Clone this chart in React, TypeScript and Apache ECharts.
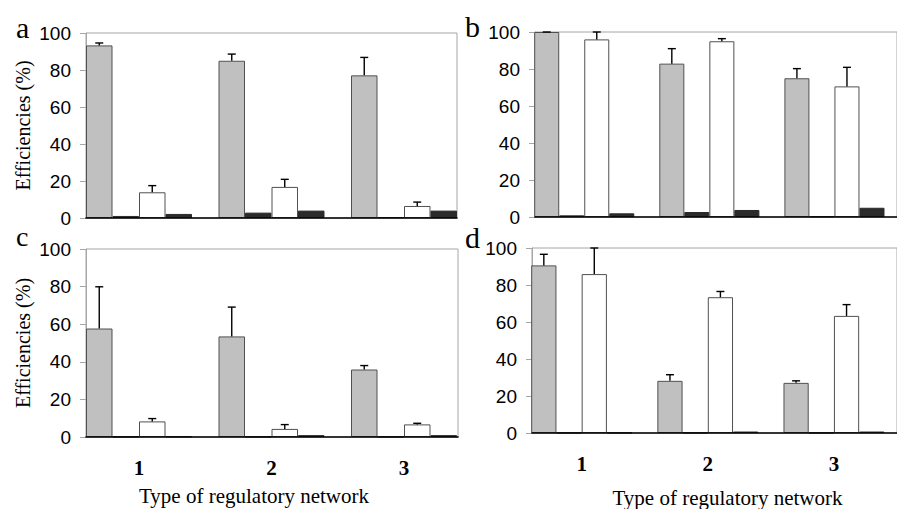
import React, { useEffect, useRef } from 'react';
import * as echarts from 'echarts';

// ---- data ----
const categories = ['1', '2', '3'];
const yTicks = { min: 0, max: 100, step: 20 };

// panel a
const aGray = [93.3, 85.0, 77.1];
const aGrayErr = [1.3, 3.6, 9.7];
const aDark1 = [1.1, 2.9, 0.5];
const aWhite = [13.9, 16.8, 6.5];
const aWhiteErr = [3.6, 4.1, 2.1];
const aDark2 = [2.2, 4.0, 4.0];

// panel b
const bGray = [100, 82.9, 75.0];
const bGrayErr = [0.2, 8.1, 5.2];
const bDark1 = [0.9, 2.7, 0.4];
const bWhite = [96.0, 95.0, 70.6];
const bWhiteErr = [4.0, 1.4, 10.3];
const bDark2 = [2.0, 3.8, 5.0];

// panel c
const cGray = [57.7, 53.5, 35.9];
const cGrayErr = [22.2, 15.6, 2.1];
const cDark1 = [0.2, 0.2, 0.2];
const cWhite = [8.3, 4.3, 6.7];
const cWhiteErr = [1.5, 2.3, 0.6];
const cDark2 = [0.3, 1.0, 1.0];

// panel d
const dGray = [90.6, 28.2, 27.1];
const dGrayErr = [6.0, 3.3, 1.1];
const dDark1 = [0.2, 0.2, 0.2];
const dWhite = [85.9, 73.4, 63.3];
const dWhiteErr = [14.1, 3.1, 6.1];
const dDark2 = [0.2, 0.8, 0.8];

const panelLetters = ['a', 'b', 'c', 'd'];
const yTitle = 'Efficiencies (%)';
const xTitle = 'Type of regulatory network';

const panelsData = [
  { gray: aGray, grayErr: aGrayErr, dark1: aDark1, white: aWhite, whiteErr: aWhiteErr, dark2: aDark2 },
  { gray: bGray, grayErr: bGrayErr, dark1: bDark1, white: bWhite, whiteErr: bWhiteErr, dark2: bDark2 },
  { gray: cGray, grayErr: cGrayErr, dark1: cDark1, white: cWhite, whiteErr: cWhiteErr, dark2: cDark2 },
  { gray: dGray, grayErr: dGrayErr, dark1: dDark1, white: dWhite, whiteErr: dWhiteErr, dark2: dDark2 },
];

// ---- layout ----
const layouts = [
  { left: 86, top: 33, width: 371, height: 185, band: 132.5, showX: false, showY: true },
  { left: 535, top: 32, width: 400, height: 185, band: 133, showX: false, showY: false },
  { left: 86, top: 249, width: 372, height: 188, band: 132.5, showX: true, showY: true },
  { left: 532, top: 248, width: 400, height: 185, band: 134, showX: true, showY: false },
];
const CAT_GAP = 0.2;
const FRAME = '#a6a6a6';
const BORDER = '#505050';
const DARK = '#2b2b2b';

function buildOption() {
  const grid: any[] = [];
  const xAxis: any[] = [];
  const yAxis: any[] = [];
  const series: any[] = [];

  layouts.forEach((L, i) => {
    const d = panelsData[i];
    const fg = grid.length;
    grid.push({
      left: L.left, top: L.top, width: L.width, height: L.height,
      show: true, borderColor: FRAME, borderWidth: 1, backgroundColor: 'transparent',
    });
    const dg = grid.length;
    grid.push({
      left: L.left - (L.band * CAT_GAP) / 2, top: L.top, width: L.band * 3, height: L.height,
    });

    // frame axes
    xAxis.push({
      gridIndex: fg, type: 'value', min: 0, max: 1, z: 5,
      axisLine: { show: true, onZero: false, lineStyle: { color: '#000', width: 1.6 } },
      axisTick: { show: false }, axisLabel: { show: false }, splitLine: { show: false },
    });
    yAxis.push({
      gridIndex: fg, type: 'value', min: yTicks.min, max: yTicks.max, interval: yTicks.step,
      axisLine: { show: true, lineStyle: { color: FRAME, width: 1 } },
      axisTick: { show: true, length: 6, lineStyle: { color: FRAME } },
      axisLabel: { fontFamily: 'Liberation Sans', fontSize: 19, color: '#000', margin: 15 },
      splitLine: { show: false },
    });
    // data axes
    const dx = xAxis.length;
    xAxis.push({
      gridIndex: dg, type: 'category', data: categories,
      axisLine: { show: false }, axisTick: { show: false }, splitLine: { show: false },
      axisLabel: {
        show: L.showX, fontFamily: 'Liberation Serif', fontWeight: 'bold', fontSize: 21,
        color: '#000', margin: 20,
      },
    });
    const dy = yAxis.length;
    yAxis.push({ gridIndex: dg, type: 'value', min: yTicks.min, max: yTicks.max, show: false });

    const barBase = {
      type: 'bar', xAxisIndex: dx, yAxisIndex: dy, barGap: '0%', barCategoryGap: '20%',
    };
    series.push({ ...barBase, name: `gray${i}`, data: d.gray,
      itemStyle: { color: '#c0c0c0', borderColor: BORDER, borderWidth: 1 } });
    series.push({ ...barBase, name: `dark1${i}`, data: d.dark1,
      itemStyle: { color: DARK, borderColor: DARK, borderWidth: 1 } });
    series.push({ ...barBase, name: `white${i}`, data: d.white,
      itemStyle: { color: '#ffffff', borderColor: BORDER, borderWidth: 1 } });
    series.push({ ...barBase, name: `dark2${i}`, data: d.dark2,
      itemStyle: { color: DARK, borderColor: DARK, borderWidth: 1 } });

    const errData: any[] = [];
    categories.forEach((_, j) => {
      errData.push([j, d.gray[j], Math.min(100, d.gray[j] + d.grayErr[j]), 0]);
      errData.push([j, d.white[j], Math.min(100, d.white[j] + d.whiteErr[j]), 2]);
    });
    series.push({
      type: 'custom', xAxisIndex: dx, yAxisIndex: dy, z: 10, clip: false,
      encode: { x: 0, y: [1, 2] },
      data: errData,
      renderItem: (params: any, api: any) => {
        const cat = api.value(0);
        const val = api.value(1);
        const top = api.value(2);
        const s = api.value(3);
        const base = api.coord([cat, val]);
        const tp = api.coord([cat, top]);
        const band = api.size([1, 0])[0];
        const groupW = band * (1 - CAT_GAP);
        const barW = groupW / 4;
        const x = base[0] - groupW / 2 + (s + 0.5) * barW;
        const st = { stroke: '#000', lineWidth: 1.4 };
        return {
          type: 'group',
          children: [
            { type: 'line', shape: { x1: x, y1: base[1], x2: x, y2: tp[1] }, style: st },
            { type: 'line', shape: { x1: x - 4, y1: tp[1], x2: x + 4, y2: tp[1] }, style: st },
          ],
        };
      },
    });
  });

  const graphic: any[] = [];
  const letterPos = [
    { x: 16, y: 27, size: 30 },
    { x: 465, y: 26, size: 30 },
    { x: 16, y: 236, size: 28 },
    { x: 465, y: 237, size: 30 },
  ];
  panelLetters.forEach((t, i) => {
    graphic.push({
      type: 'text', x: letterPos[i].x, y: letterPos[i].y,
      style: { text: t, fontFamily: 'Liberation Serif', fontSize: letterPos[i].size, fill: '#000',
        align: 'left', verticalAlign: 'middle' },
    });
  });
  layouts.forEach((L) => {
    if (L.showY) {
      graphic.push({
        type: 'text', x: 23, y: L.top + L.height / 2, rotation: Math.PI / 2,
        style: { text: yTitle, fontFamily: 'Liberation Serif', fontSize: 20, fill: '#000',
          align: 'center', verticalAlign: 'middle' },
      });
    }
  });
  const xTitlePos = [
    { x: 254, y: 496 },
    { x: 727.5, y: 497.5 },
  ];
  xTitlePos.forEach((p) => {
    graphic.push({
      type: 'text', x: p.x, y: p.y,
      style: { text: xTitle, fontFamily: 'Liberation Serif', fontSize: 21, fill: '#000',
        align: 'center', verticalAlign: 'middle' },
    });
  });

  return { animation: false, backgroundColor: '#fff', grid, xAxis, yAxis, series, graphic };
}

export default function App() {
  const ref = useRef<HTMLDivElement>(null);
  useEffect(() => {
    if (!ref.current) return;
    const chart = echarts.init(ref.current, undefined, { renderer: 'svg' });
    chart.setOption(buildOption() as any);
    return () => chart.dispose();
  }, []);
  return (
    <div
      ref={ref}
      style={{ position: 'absolute', left: 0, top: 0, width: 897, height: 509, background: '#fff' }}
    />
  );
}
